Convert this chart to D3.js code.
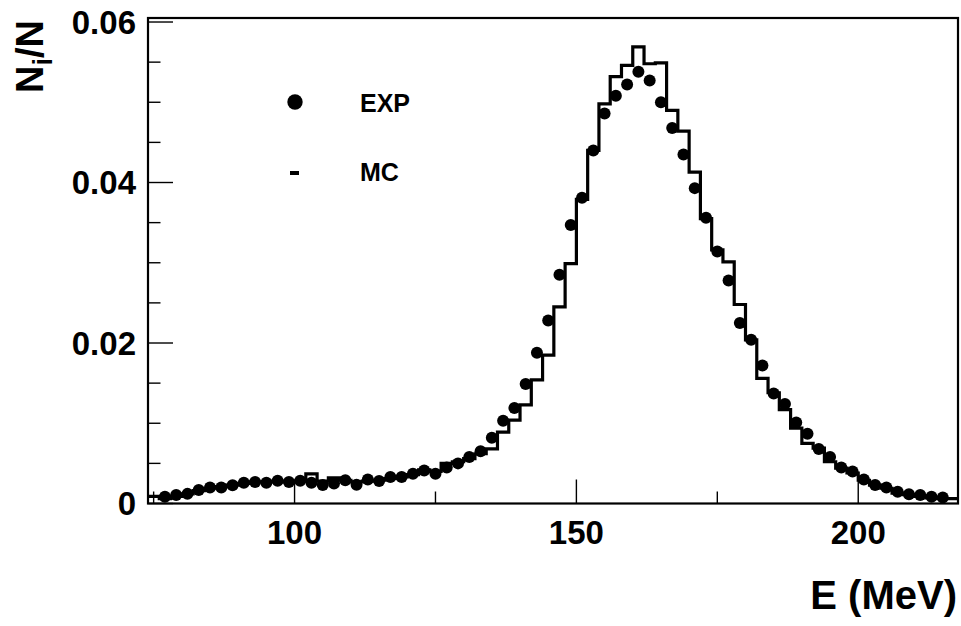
<!DOCTYPE html>
<html>
<head>
<meta charset="utf-8">
<script src="https://cdn.jsdelivr.net/npm/d3@7"></script>
<style>
  body { margin: 0; background: #fff; }
  text { font-family: "Liberation Sans", Arial, Helvetica, sans-serif; font-weight: bold; fill: #000; }
</style>
</head>
<body>
<svg id="chart" width="961" height="626"></svg>
<script>
// Measured spectrum (bin centres, MeV) and normalised counts
const expEnergy = [77, 79, 81, 83, 85, 87, 89, 91, 93, 95, 97, 99, 101, 103, 105, 107, 109, 111, 113, 115,
  117, 119, 121, 123, 125, 127, 129, 131, 133, 135, 137, 139, 141, 143, 145, 147, 149, 151, 153, 155,
  157, 159, 161, 163, 165, 167, 169, 171, 173, 175, 177, 179, 181, 183, 185, 187, 189, 191, 193, 195,
  197, 199, 201, 203, 205, 207, 209, 211, 213, 215];
const expValues = [0.00085, 0.00106, 0.0012, 0.00168, 0.0020, 0.0020, 0.00227, 0.0026, 0.00268, 0.0026,
  0.00284, 0.00268, 0.00284, 0.0026, 0.0023, 0.0025, 0.0029, 0.00234, 0.0030, 0.0028,
  0.0033, 0.0033, 0.0037, 0.0041, 0.0037, 0.0045, 0.0050, 0.0058, 0.0065, 0.0082,
  0.0103, 0.0119, 0.0149, 0.0188, 0.0228, 0.0285, 0.0347, 0.0381, 0.0440, 0.0486,
  0.0508, 0.0522, 0.0538, 0.0527, 0.0500, 0.0468, 0.0435, 0.0393, 0.0356, 0.0314,
  0.0278, 0.0225, 0.0204, 0.0172, 0.0137, 0.0124, 0.0101, 0.0087, 0.0068, 0.0058,
  0.0045, 0.0040, 0.0030, 0.0023, 0.0020, 0.00147, 0.00114, 0.00106, 0.00085, 0.00075];

// Simulated spectrum: lower bin edges (MeV), 2 MeV wide bins
const mcBinLow = [74, 76, 78, 80, 82, 84, 86, 88, 90, 92, 94, 96, 98, 100, 102, 104, 106, 108, 110, 112,
  114, 116, 118, 120, 122, 124, 126, 128, 130, 132, 134, 136, 138, 140, 142, 144, 146, 148, 150, 152,
  154, 156, 158, 160, 162, 164, 166, 168, 170, 172, 174, 176, 178, 180, 182, 184, 186, 188, 190, 192,
  194, 196, 198, 200, 202, 204, 206, 208, 210, 212, 214, 216];
const mcValues = [0.0009, 0.0006, 0.0009, 0.0012, 0.0016, 0.0019, 0.0021, 0.0023, 0.0025, 0.0027,
  0.0027, 0.0028, 0.0027, 0.0028, 0.0037, 0.0028, 0.0032, 0.0029, 0.0027, 0.0028,
  0.0029, 0.0031, 0.0033, 0.0036, 0.0042, 0.0040, 0.0050, 0.0052, 0.0056, 0.0062,
  0.0068, 0.0089, 0.0104, 0.0123, 0.0154, 0.0185, 0.0245, 0.0299, 0.0379, 0.0440,
  0.0498, 0.0532, 0.0546, 0.0569, 0.0548, 0.0549, 0.0490, 0.0464, 0.0413, 0.0355,
  0.0316, 0.0301, 0.0248, 0.0204, 0.0156, 0.0138, 0.0117, 0.0094, 0.0075, 0.0069,
  0.0052, 0.0044, 0.0038, 0.0029, 0.0023, 0.0019, 0.0013, 0.0011, 0.0009, 0.0007,
  0.0006, 0.0006];
const mcBinWidth = 2;

// Axis ticks
const xMajorTicks = [100, 150, 200];
const xTickLabels = ["100", "150", "200"];
const xMinorTicks = [75, 125, 175];
const yMajorTicks = [0, 0.02, 0.04, 0.06];
const yTickLabels = ["0", "0.02", "0.04", "0.06"];
const yMinorTicks = [0.005, 0.01, 0.015, 0.025, 0.03, 0.035, 0.045, 0.05, 0.055];

const legendLabels = ["EXP", "MC"];

const frame = { left: 148, right: 958, top: 18, bottom: 503.5 };

const svg = d3.select("#chart");

const x = d3.scaleLinear().domain([74, 217.7]).range([frame.left, frame.right]);
const y = d3.scaleLinear().domain([0, 0.0605]).range([frame.bottom, frame.top]);

svg.append("defs").append("clipPath").attr("id", "plotClip")
  .append("rect")
  .attr("x", frame.left).attr("y", frame.top)
  .attr("width", frame.right - frame.left).attr("height", frame.bottom - frame.top);

// Ticks (drawn inward from the frame)
const ticks = svg.append("g").attr("stroke", "#000").attr("stroke-width", 1.4);
xMajorTicks.forEach(v => ticks.append("line")
  .attr("x1", x(v)).attr("x2", x(v)).attr("y1", frame.bottom).attr("y2", frame.bottom - 24));
xMinorTicks.forEach(v => ticks.append("line")
  .attr("x1", x(v)).attr("x2", x(v)).attr("y1", frame.bottom).attr("y2", frame.bottom - 12));
yMajorTicks.forEach(v => ticks.append("line")
  .attr("x1", frame.left).attr("x2", frame.left + 25).attr("y1", y(v)).attr("y2", y(v)));
yMinorTicks.forEach(v => ticks.append("line")
  .attr("x1", frame.left).attr("x2", frame.left + 12.5).attr("y1", y(v)).attr("y2", y(v)));

// MC histogram as a step line
const mcPoints = mcBinLow.map((e, i) => [e, mcValues[i]]);
mcPoints.push([mcBinLow[mcBinLow.length - 1] + mcBinWidth, mcValues[mcValues.length - 1]]);
const stepLine = d3.line()
  .x(d => x(d[0]))
  .y(d => y(d[1]))
  .curve(d3.curveStepAfter);
svg.append("path")
  .attr("clip-path", "url(#plotClip)")
  .attr("d", stepLine(mcPoints))
  .attr("fill", "none")
  .attr("stroke", "#000")
  .attr("stroke-width", 3.2);

// EXP points
svg.append("g").selectAll("circle")
  .data(expEnergy.map((e, i) => [e, expValues[i]]))
  .join("circle")
  .attr("cx", d => x(d[0]))
  .attr("cy", d => y(d[1]))
  .attr("r", 6)
  .attr("fill", "#000");

// Frame
svg.append("rect")
  .attr("x", frame.left).attr("y", frame.top)
  .attr("width", frame.right - frame.left).attr("height", frame.bottom - frame.top)
  .attr("fill", "none").attr("stroke", "#000").attr("stroke-width", 2.2);

// Tick labels
svg.append("g").selectAll("text")
  .data(xMajorTicks)
  .join("text")
  .attr("x", d => x(d))
  .attr("y", 544)
  .attr("text-anchor", "middle")
  .attr("font-size", 33)
  .text((d, i) => xTickLabels[i]);

svg.append("g").selectAll("text")
  .data(yMajorTicks)
  .join("text")
  .attr("x", 136)
  .attr("y", d => y(d))
  .attr("dy", "0.36em")
  .attr("text-anchor", "end")
  .attr("font-size", 33)
  .text((d, i) => yTickLabels[i]);

// Axis titles
svg.append("text")
  .attr("x", 957).attr("y", 609)
  .attr("text-anchor", "end")
  .attr("font-size", 40)
  .text("E (MeV)");

const yTitle = svg.append("text")
  .attr("transform", "translate(43,93) rotate(-90)")
  .attr("font-size", 38);
yTitle.append("tspan").text("N");
yTitle.append("tspan").attr("font-size", 27).attr("dy", 9).text("i");
yTitle.append("tspan").attr("dy", -9).text("/N");

// Legend
svg.append("circle").attr("cx", 295).attr("cy", 102).attr("r", 7.7).attr("fill", "#000");
svg.append("rect").attr("x", 290).attr("y", 171).attr("width", 9).attr("height", 4).attr("fill", "#000");
svg.append("text").attr("x", 360).attr("y", 112).attr("font-size", 25).text(legendLabels[0]);
svg.append("text").attr("x", 360).attr("y", 181).attr("font-size", 25).text(legendLabels[1]);
</script>
</body>
</html>
